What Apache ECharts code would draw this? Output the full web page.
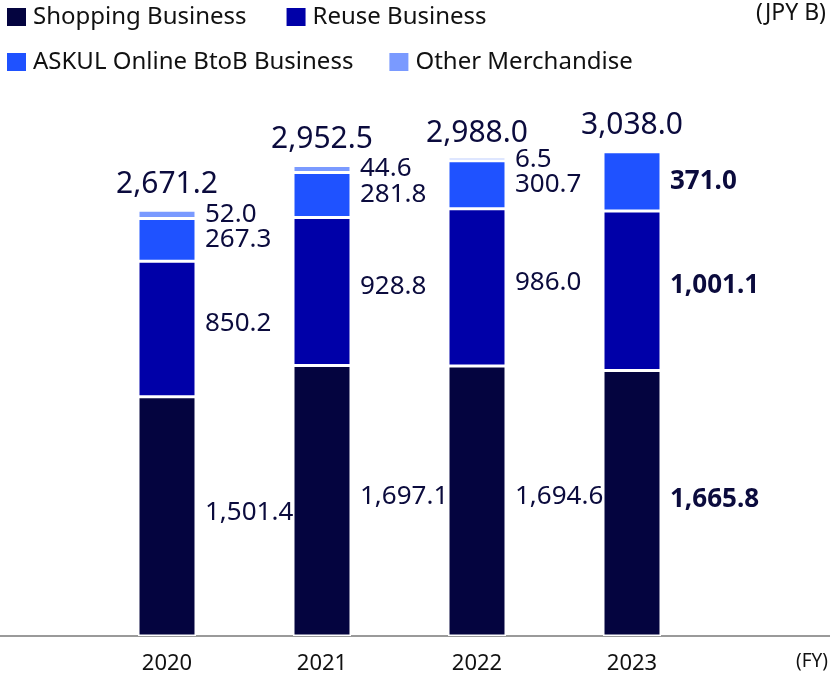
<!DOCTYPE html>
<html><head><meta charset="utf-8">
<script src="https://cdn.jsdelivr.net/npm/echarts@6/dist/echarts.min.js"></script>
<style>html,body{margin:0;padding:0;background:#fff}#c{width:830px;height:685px}</style>
</head><body><div id="c"></div>
<script>
const years = ['2020', '2021', '2022', '2023'];
const shopping = [1501.4, 1697.1, 1694.6, 1665.8];
const reuse = [850.2, 928.8, 986.0, 1001.1];
const askul = [267.3, 281.8, 300.7, 371.0];
const other = [52.0, 44.6, 6.5, null];
const totals = [2671.2, 2952.5, 2988.0, 3038.0];

const names = ['Shopping Business', 'Reuse Business', 'ASKUL Online BtoB Business', 'Other Merchandise'];
const colors = ['#04043f', '#0000a8', '#1f52ff', '#7a9aff'];
const textColor = '#0b0b3d';
const FONT = 'Noto Sans';
const fmt = v => v.toLocaleString('en-US', {minimumFractionDigits: 1, maximumFractionDigits: 1});

function seg(name, data, color, extra, labelOffset) {
  return Object.assign({
    name, type: 'bar', stack: 'a', data, barWidth: 58,
    xAxisIndex: 0, yAxisIndex: 0,
    itemStyle: {color, borderColor: '#fff', borderWidth: 1.5},
    label: {
      show: true, position: 'right', distance: 9, offset: labelOffset || [0, 0],
      formatter: p => p.value == null ? '' : (p.dataIndex === 3 ? '{b|' + fmt(p.value) + '}' : '{n|' + fmt(p.value) + '}'),
      rich: {
        n: {fontSize: 26, color: textColor, fontFamily: FONT},
        b: {fontSize: 26, color: textColor, fontFamily: FONT, fontWeight: 'bold'}
      }
    },
    emphasis: {disabled: true}
  }, extra || {});
}

const chart = echarts.init(document.getElementById('c'));
chart.setOption({
  animation: false,
  title: [
    {text: '(JPY B)', right: 4, top: 2, padding: 0, textStyle: {fontSize: 23, fontWeight: 'normal', color: '#111', fontFamily: FONT}},
    {text: '(FY)', right: 2, top: 652, padding: 0, textStyle: {fontSize: 19, fontWeight: 'normal', color: '#111', fontFamily: FONT}}
  ],
  legend: [
    {data: names.slice(0, 2), left: 0, top: 0, icon: 'rect', itemWidth: 21, itemHeight: 20, itemGap: 38,
     textStyle: {fontSize: 24, color: '#111', fontFamily: FONT, padding: [0, 0, 0, 1]}, selectedMode: false},
    {data: names.slice(2, 4), left: 0, top: 45, icon: 'rect', itemWidth: 21, itemHeight: 20, itemGap: 34,
     textStyle: {fontSize: 24, color: '#111', fontFamily: FONT, padding: [0, 0, 0, 1]}, selectedMode: false}
  ],
  grid: [
    {left: 89.5, right: 120.5, top: 126, bottom: 49},
    {left: 0, right: 0, top: 126, bottom: 49}
  ],
  xAxis: [
    {type: 'category', data: years, gridIndex: 0,
     axisLine: {show: false}, axisTick: {show: false},
     axisLabel: {fontSize: 22, color: '#111', fontFamily: FONT, margin: 17}},
    {type: 'value', gridIndex: 1, min: 0, max: 1, show: true,
     axisLine: {show: true, lineStyle: {color: '#9a9a9a', width: 2}},
     axisTick: {show: false}, axisLabel: {show: false}, splitLine: {show: false}}
  ],
  yAxis: [
    {type: 'value', gridIndex: 0, min: 0, max: 3200, show: false},
    {type: 'value', gridIndex: 1, min: 0, max: 1, show: false}
  ],
  series: [
    seg(names[0], shopping, colors[0], null, [0, -4]),
    seg(names[1], reuse, colors[1], null, [0, -5]),
    seg(names[2], askul, colors[2]),
    seg(names[3], other, colors[3], {barMinHeight: 3.5}),
    {
      name: 'Total', type: 'scatter', data: totals, symbolSize: 0,
      xAxisIndex: 0, yAxisIndex: 0, z: 10,
      itemStyle: {opacity: 1},
      label: {show: true, position: 'top', distance: 11, formatter: p => fmt(p.value),
              fontSize: 30, color: textColor, fontFamily: FONT},
      emphasis: {disabled: true}
    }
  ]
});
</script></body></html>
